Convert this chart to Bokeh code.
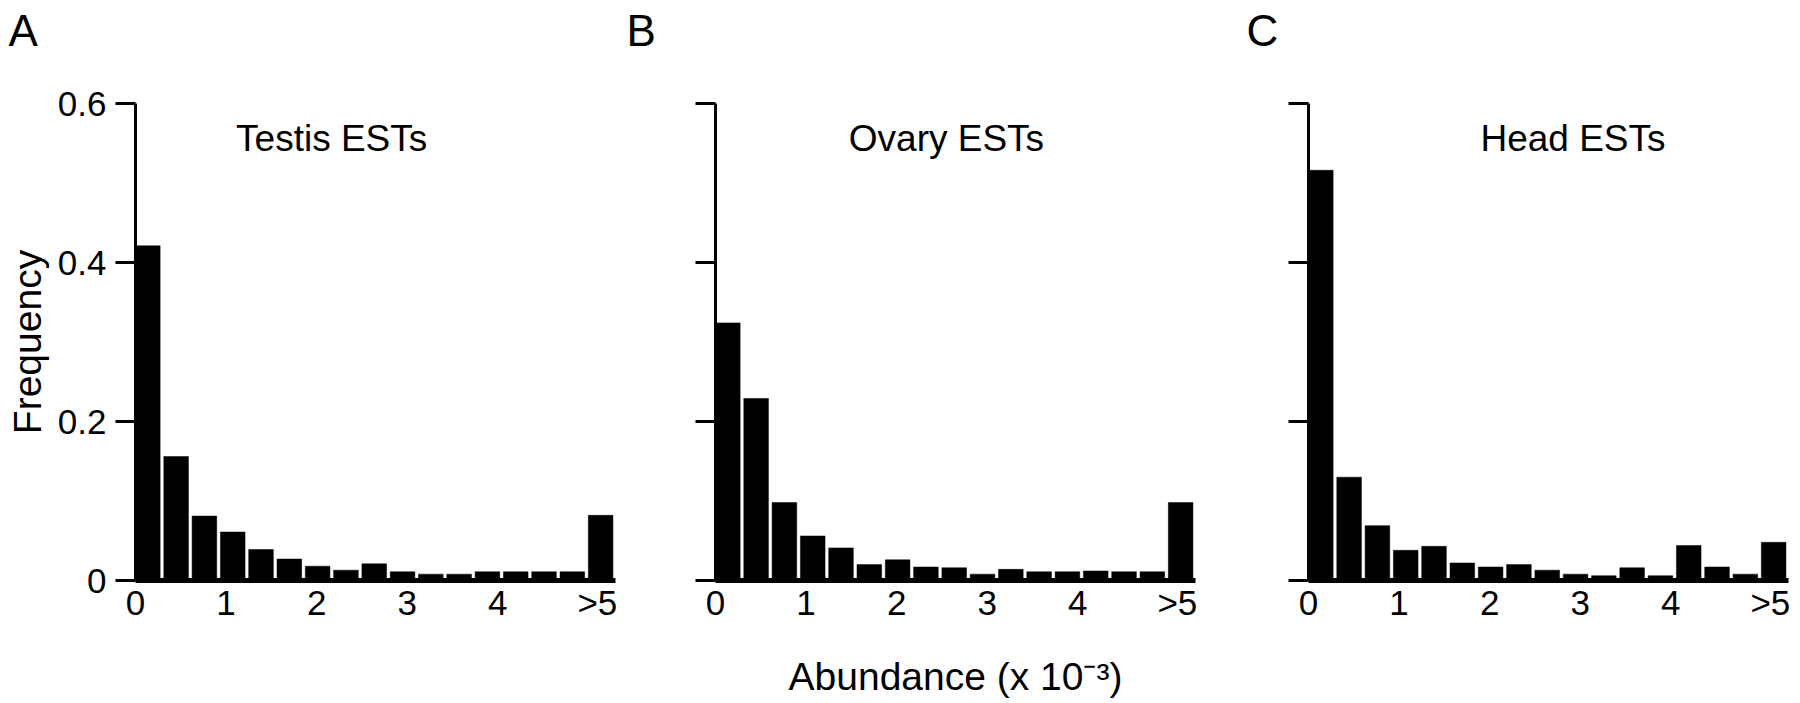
from bokeh.plotting import figure
from bokeh.layouts import row
from bokeh.models import FixedTicker, Label, Title
from bokeh.embed import file_html
from bokeh.resources import INLINE

# ---- data ----
bin_width = 5 / 16          # abundance bins (x 10^-3); the 17th bin is ">5"
bin_start = [i * bin_width for i in range(17)]

testis = [0.421, 0.156, 0.081, 0.061, 0.039, 0.027, 0.018, 0.013, 0.021,
          0.011, 0.008, 0.008, 0.011, 0.011, 0.011, 0.011, 0.082]
ovary = [0.324, 0.229, 0.098, 0.056, 0.041, 0.020, 0.026, 0.017, 0.016,
         0.008, 0.014, 0.011, 0.011, 0.012, 0.011, 0.011, 0.098]
head = [0.516, 0.130, 0.069, 0.038, 0.043, 0.022, 0.017, 0.020, 0.013,
        0.008, 0.006, 0.016, 0.006, 0.044, 0.017, 0.008, 0.048]

x_tick_pos = [0, 1, 2, 3, 4, 5.1]
x_tick_labels = ["0", "1", "2", "3", "4", ">5"]
y_tick_pos = [0, 0.2, 0.4, 0.6]
y_tick_labels = ["0", "0.2", "0.4", "0.6"]

titles = ["Testis ESTs", "Ovary ESTs", "Head ESTs"]
letters = ["A", "B", "C"]
y_title = "Frequency"
x_title = "Abundance (x 10\u207b\u00b3)"

FONT = "Liberation Sans"
BAR_W = 0.272


def panel(values, title, width, left, right, ylabels, title_x):
    p = figure(width=width, height=703, x_range=(0, 5.3), y_range=(0, 0.6),
               output_backend="svg", toolbar_location=None,
               min_border_left=left, min_border_right=right,
               min_border_top=103, min_border_bottom=123)
    p.xgrid.visible = False
    p.ygrid.visible = False
    p.outline_line_color = None
    p.background_fill_color = "white"
    p.border_fill_color = "white"

    p.quad(left=bin_start, right=[b + BAR_W for b in bin_start],
           bottom=0, top=values, fill_color="black", line_color="black",
           line_width=0.5)

    xa = p.xaxis[0]
    xa.ticker = FixedTicker(ticks=x_tick_pos)
    xa.major_label_overrides = dict(zip(x_tick_pos, x_tick_labels))
    xa.major_tick_out = 0
    xa.major_tick_in = 0
    xa.minor_tick_out = 0
    xa.minor_tick_in = 0
    xa.axis_line_width = 5
    xa.axis_line_color = "black"
    xa.major_label_standoff = 2
    xa.major_label_text_font = FONT
    xa.major_label_text_font_size = "35px"
    xa.major_label_text_color = "black"

    ya = p.yaxis[0]
    ya.ticker = FixedTicker(ticks=y_tick_pos)
    if ylabels:
        ya.major_label_overrides = dict(zip(y_tick_pos, y_tick_labels))
    else:
        ya.major_label_overrides = {t: "" for t in y_tick_pos}
    ya.major_tick_out = 20
    ya.major_tick_in = 0
    ya.major_tick_line_width = 3
    ya.major_tick_line_color = "black"
    ya.minor_tick_out = 0
    ya.minor_tick_in = 0
    ya.axis_line_width = 3
    ya.axis_line_color = "black"
    ya.major_label_standoff = 9
    ya.major_label_text_font = FONT
    ya.major_label_text_font_size = "35px"
    ya.major_label_text_color = "black"

    p.add_layout(Label(x=title_x, y=0.556, text=title, text_align="center",
                       text_baseline="middle", text_font=FONT,
                       text_font_size="37px", text_color="black"))
    return p


def letter_title(text, offset):
    # second (blank) line lifts the letter towards the top edge
    return Title(text=text + "\n ", align="left", offset=offset, standoff=0,
                 text_font=FONT, text_font_size="44px", text_font_style="normal",
                 text_color="black")


pa = panel(testis, titles[0], 620, 135, 5, True, 2.166)
pb = panel(ovary, titles[1], 580, 95, 5, False, 2.55)
pc = panel(head, titles[2], 600, 108, 12, False, 2.92)

pa.title = letter_title(letters[0], -127)
pb.title = letter_title(letters[1], -89)
pc.title = letter_title(letters[2], -62)

pa.yaxis[0].axis_label = y_title
pa.yaxis[0].axis_label_standoff = 6
pa.yaxis[0].axis_label_text_font = FONT
pa.yaxis[0].axis_label_text_font_size = "39px"
pa.yaxis[0].axis_label_text_font_style = "normal"
pa.yaxis[0].axis_label_text_color = "black"

pb.xaxis[0].axis_label = x_title
pb.xaxis[0].axis_label_standoff = 30
pb.xaxis[0].axis_label_text_font = FONT
pb.xaxis[0].axis_label_text_font_size = "39px"
pb.xaxis[0].axis_label_text_font_style = "normal"
pb.xaxis[0].axis_label_text_color = "black"

layout = row(pa, pb, pc)
open("out.html", "w").write(file_html(layout, INLINE))
